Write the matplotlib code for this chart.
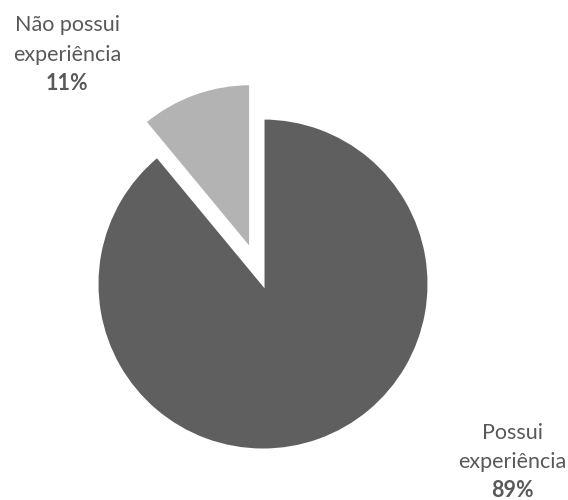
import matplotlib.pyplot as plt

# share of respondents with / without experience
categories = ["Possui\nexperiência", "Não possui\nexperiência"]
shares = [89, 11]
colors = ["#5f5f5f", "#b3b3b3"]
explode = [0, 0.22]

TEXT_COLOR = "#595959"
FONT = "Lato"
LINE_STEP = 0.18

figure = plt.figure(figsize=(5.68, 5.0), dpi=100)
ax = figure.add_axes([0, 0, 1, 1])
ax.pie(shares, colors=colors, explode=explode, startangle=90,
	counterclock=False, radius=1.0,
	wedgeprops=dict(edgecolor="white", linewidth=2.2))

# limits chosen so the pie sits left of centre, leaving room for labels
ax.set_xlim(-1.584, 1.837)
ax.set_ylim(-1.301, 1.711)
ax.set_aspect("auto")
ax.axis("off")

# centre of the first line of each label
label_pos = [(1.50, -0.895), (-1.18, 1.56)]
for name, share, (x, y) in zip(categories, shares, label_pos):
	lines = name.split("\n")
	for i, line in enumerate(lines):
		ax.text(x, y - i * LINE_STEP, line, ha="center", va="center",
			fontsize=15.5, color=TEXT_COLOR, family=FONT)
	ax.text(x, y - len(lines) * LINE_STEP + 0.01, f"{share}%",
		ha="center", va="center", fontsize=15.5, fontweight="bold",
		color=TEXT_COLOR, family=FONT)

figure.savefig("out.png", dpi=100)
